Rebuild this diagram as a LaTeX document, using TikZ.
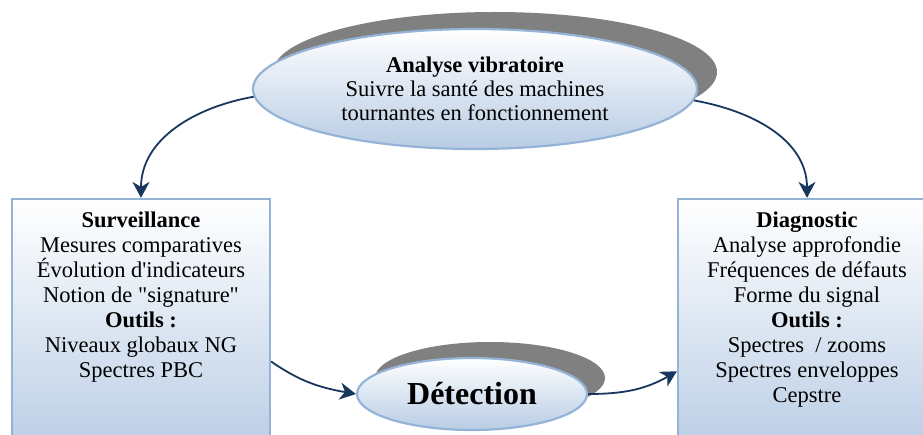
\documentclass[tikz,border=0pt]{standalone}
\usepackage{fontspec}
\setmainfont{Liberation Serif}
\usetikzlibrary{shapes.geometric,shadows,arrows.meta}

\definecolor{lienbleu}{RGB}{23,55,94}
\definecolor{bordbleu}{RGB}{149,179,215}
\definecolor{fondbleu}{RGB}{184,204,228}
\definecolor{ombre}{RGB}{128,128,128}

\tikzset{
		bulle/.style     = {shape=ellipse, draw=bordbleu, line width=2.2pt,
				top color=white, bottom color=fondbleu,
				inner sep=0pt, align=center},
		vibration/.style = {bulle, minimum width=444pt, minimum height=120pt,
				general shadow={fill=ombre, shadow xshift=20pt, shadow yshift=17pt},
				font=\fontsize{22.5}{24}\selectfont},
		detect/.style    = {bulle, minimum width=230pt, minimum height=72pt,
				general shadow={fill=ombre, shadow xshift=18pt, shadow yshift=16pt},
				font=\fontsize{32}{36}\selectfont\bfseries},
		cadre/.style     = {shape=rectangle, draw=bordbleu, line width=2.2pt,
				top color=white, bottom color=fondbleu, inner sep=0pt,
				minimum width=258pt, minimum height=260pt},
		texte/.style     = {align=center, anchor=north, inner sep=0pt,
				font=\fontsize{22.5}{25}\selectfont},
		lien/.style      = {draw=lienbleu, line width=1.8pt,
				-{Stealth[length=16pt, width=17pt, inset=5pt]}}
	}

\begin{document}
\begin{tikzpicture}[x=1pt, y=1pt]
	\useasboundingbox (0,0) rectangle (923,434);

	% les deux cadres
	\node [cadre] (surv) at (141,105) {};
	\node [cadre] (diag) at (807,105) {};
	\node [texte] (survtxt) at ([yshift=-14pt]surv.north)
		{\textbf{Surveillance}\\ Mesures comparatives\\ Évolution d\textquotesingle indicateurs\\
		 Notion de \textquotedbl signature\textquotedbl\\ \textbf{Outils :}\\ Niveaux globaux NG\\ Spectres PBC};
	\node [texte] (diagtxt) at ([yshift=-14pt]diag.north)
		{\textbf{Diagnostic}\\ Analyse approfondie\\ Fréquences de défauts\\
		 Forme du signal\\ \textbf{Outils :}\\ Spectres~ / zooms\\ Spectres enveloppes\\ Cepstre};

	% les bulles
	\node [vibration] (vib) at (475,345)
		{\textbf{Analyse vibratoire}\\ Suivre la santé des machines\\ tournantes en fonctionnement};
	\node [detect] (det) at (472,40) {Détection};

	% liens
	\draw [lien] (vib.182) to[out=190, in=90] (surv.north);
	\draw [lien] (vib.357) to[out=-10, in=90] (diag.north);
	\draw [lien] (surv.-14) to[out=-35, in=170] (det.west);
	\draw [lien] (det.east) to[out=0, in=210] (diag.198);
\end{tikzpicture}
\end{document}
